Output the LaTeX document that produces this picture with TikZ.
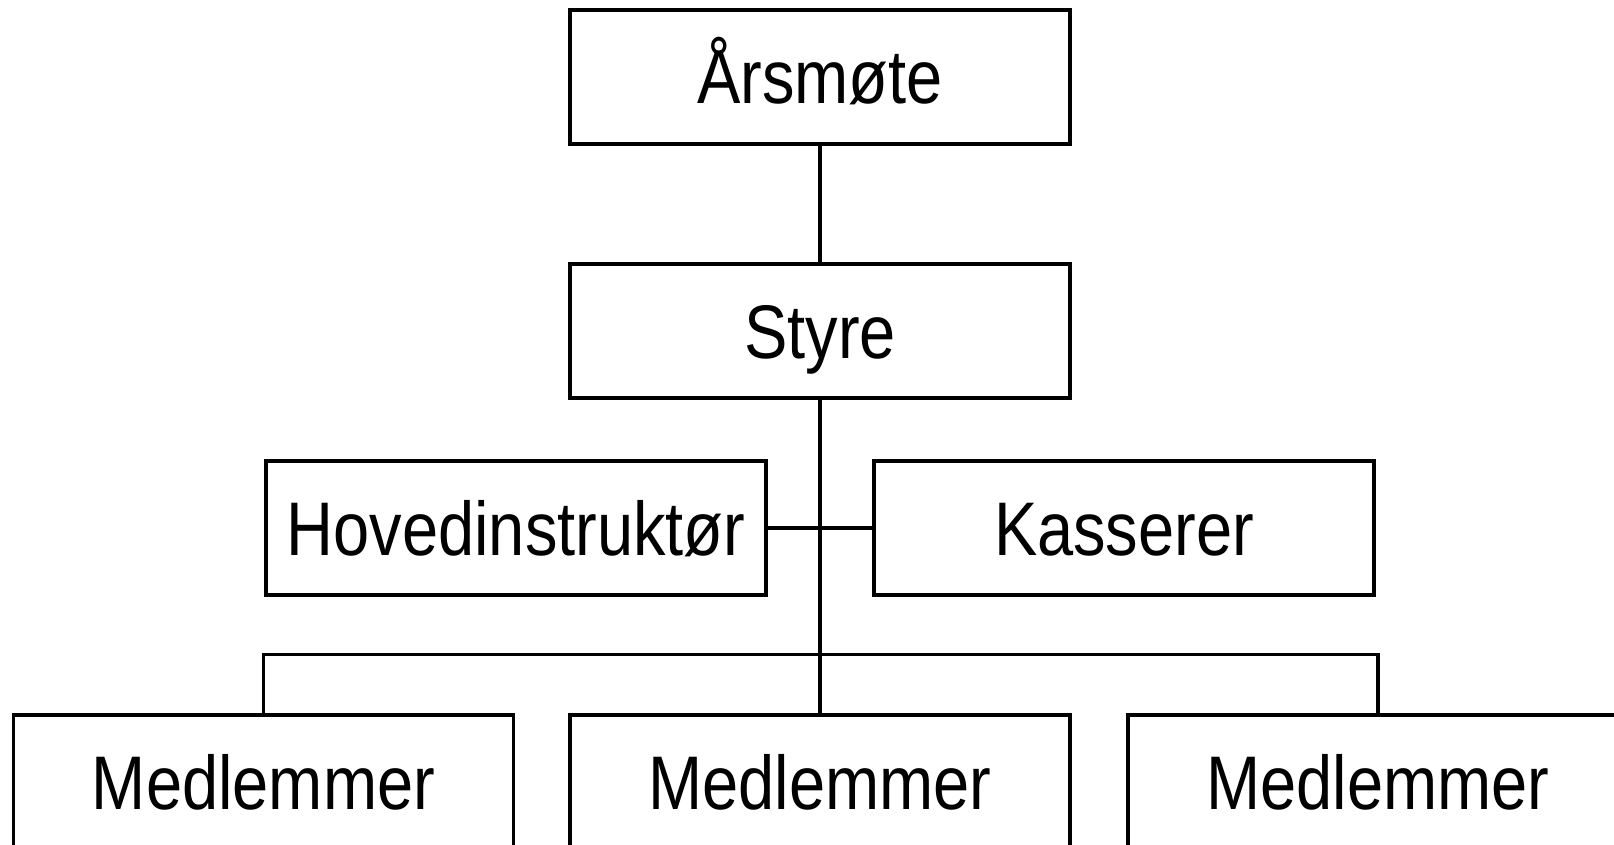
\documentclass[tikz,border=0pt]{standalone}
\usepackage{fontspec}
\setmainfont[FakeStretch=0.855]{Liberation Sans}
\begin{document}
\begin{tikzpicture}[x=1pt,y=1pt,
  orgbox/.style={draw, line width=3.2pt, minimum width=500pt, minimum height=134pt,
    inner sep=0pt, font=\fontsize{76}{80}\selectfont, text height=54pt, text depth=0pt},
  conn/.style={line width=3.2pt}]
\useasboundingbox (0,0) rectangle (1614,-845);
\node[orgbox] (aarsmote) at (820,-77) {Årsmøte};
\node[orgbox] (styre) at (820,-331) {Styre};
\node[orgbox] (hoved) at (516,-528) {Hovedinstruktør};
\node[orgbox] (kass) at (1124,-528) {Kasserer};
\node[orgbox] (med1) at (263.5,-782) {Medlemmer};
\node[orgbox] (med2) at (820,-782) {Medlemmer};
\node[orgbox] (med3) at (1378,-782) {Medlemmer};
\coordinate (busl) at (263.5,-654.5);
\coordinate (busr) at (1378,-654.5);
\draw[conn] (aarsmote) -- (styre);
\draw[conn] (styre) -- (med2);
\draw[conn] (hoved) -- (kass);
\draw[conn] (med1.north) -- (busl) -- (busr) -- (med3.north);
\end{tikzpicture}
\end{document}
